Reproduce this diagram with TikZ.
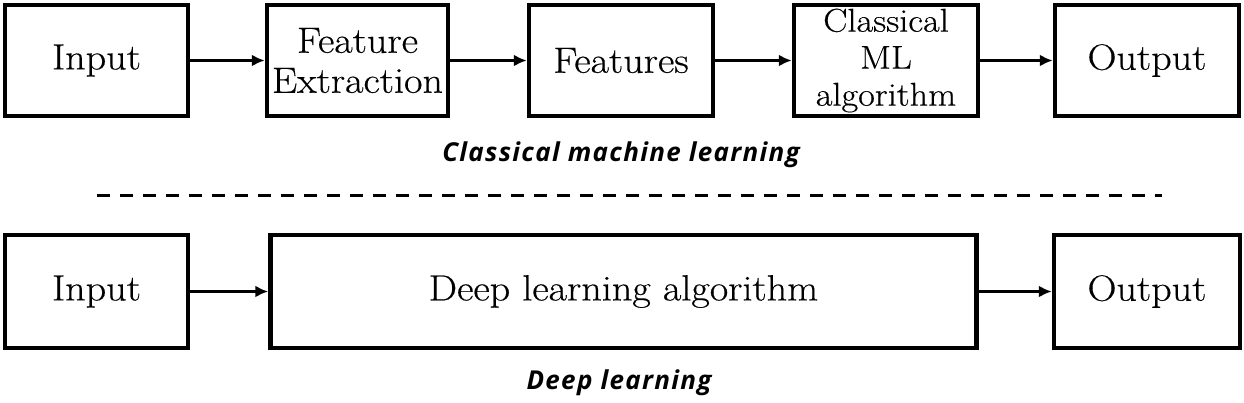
\documentclass[tikz,border=0pt]{standalone}
\usepackage{fontspec}
\setmainfont{Latin Modern Roman}[FakeStretch=1.1, FakeBold=0.4]
\newfontfamily\labelfont{Open Sans}[LetterSpace=5]
\usetikzlibrary{arrows.meta}
\tikzset{
  box/.style={draw=black, line width=4.5pt, inner sep=0pt, align=center,
    font=\fontsize{36.5}{40}\selectfont},
  smallbox/.style={box, font=\fontsize{33}{37}\selectfont},
  flow/.style={line width=3pt, -{Latex[length=13pt,width=12pt]}},
  caption/.style={font=\labelfont\bfseries\itshape\fontsize{26}{28}\selectfont},
  sep/.style={line width=3pt, dash pattern=on 13pt off 10pt}
}
\begin{document}
\begin{tikzpicture}[x=1pt,y=-1pt]
\useasboundingbox (0,0) rectangle (1244,402);
% classical row
\node[box, minimum width=183pt, minimum height=111pt] (in1) at (96.5,60.5) {Input};
\node[box, minimum width=181pt, minimum height=111pt] (fe) at (357.5,60.5) {Feature\\Extraction};
\node[box, minimum width=184pt, minimum height=111pt] (feat) at (621,60.5) {Features};
\node[smallbox, minimum width=184pt, minimum height=111pt] (cml) at (886,60.5) {Classical\\ML\\algorithm};
\node[box, minimum width=184pt, minimum height=111pt] (out1) at (1147,60.5) {Output};
\draw[flow] (in1) -- (fe);
\draw[flow] (fe) -- (feat);
\draw[flow] (feat) -- (cml);
\draw[flow] (cml) -- (out1);
\node[caption] (cap1) at (621,155) {Classical machine learning};
% separator
\coordinate (s1) at (97,195);
\coordinate (s2) at (1162,195);
\draw[sep] (s1) -- (s2);
% deep row
\node[box, minimum width=183pt, minimum height=113pt] (in2) at (96.5,291.5) {Input};
\node[box, minimum width=706pt, minimum height=113pt] (dl) at (623.5,291.5) {Deep learning algorithm};
\node[box, minimum width=186pt, minimum height=113pt] (out2) at (1147,291.5) {Output};
\draw[flow] (in2) -- (dl);
\draw[flow] (dl) -- (out2);
\node[caption] (cap2) at (619,383) {Deep learning};
\end{tikzpicture}
\end{document}
